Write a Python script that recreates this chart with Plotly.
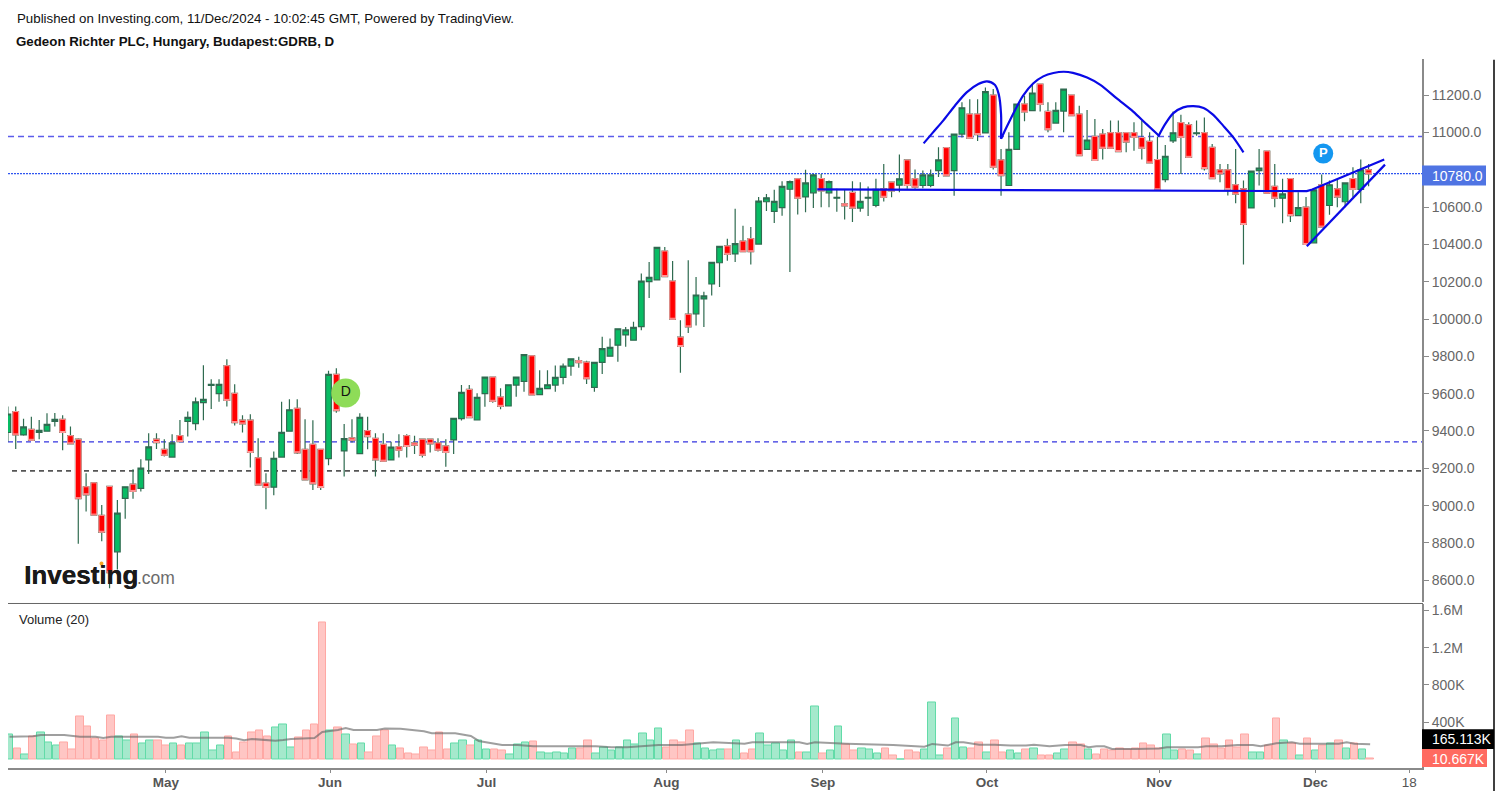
import plotly.graph_objects as go

W, H = 1502, 797

highs = [9531,9531,9465,9477,9459,9495,9497,9484,9424,9361,
 9174,9122,9003,9103,9030,9101,9195,9249,9388,9388,
 9356,9383,9459,9504,9580,9752,9677,9677,9784,9650,
 9484,9490,9361,9174,9290,9557,9570,9570,9463,9457,
 9302,9723,9736,9438,9463,9495,9477,9388,9388,9343,
 9383,9383,9375,9356,9356,9361,9356,9468,9646,9646,
 9602,9689,9689,9629,9648,9691,9810,9803,9725,9725,
 9751,9762,9789,9798,9777,9769,9905,9896,9949,9958,
 9985,10244,10306,10386,10386,10311,9994,10315,10226,10146,
 10306,10390,10431,10591,10500,10493,10654,10671,10693,10739,
 10743,10752,10800,10778,10778,10743,10698,10693,10739,10734,
 10711,10752,10832,10734,10882,10853,10802,10796,10802,10921,
 10919,10992,11162,11179,11179,11242,11233,10912,11001,11153,
 11197,11256,11260,11162,11162,11233,11201,11144,11121,11072,
 11019,11064,11064,10999,11055,11064,11001,10978,10933,11113,
 11096,11055,11064,11081,10939,10832,10832,10912,10743,10793,
 10912,10901,10832,10752,10753,10680,10654,10693,10775,10743,
 10746,10730,10814,10855,10832]
body_tops = [9491,9504,9422,9409,9404,9436,9463,9463,9375,9356,
 9101,9122,8948,9103,8960,9101,9115,9201,9315,9356,
 9302,9336,9375,9473,9556,9570,9650,9650,9750,9602,
 9458,9458,9256,9121,9254,9393,9514,9522,9302,9329,
 9302,9704,9704,9359,9363,9473,9402,9361,9329,9313,
 9315,9375,9336,9356,9356,9336,9320,9468,9607,9623,
 9580,9689,9689,9582,9648,9689,9809,9803,9629,9648,
 9687,9748,9787,9777,9769,9768,9842,9848,9948,9942,
 9955,10203,10224,10384,10365,10204,9903,10026,10129,10124,
 10304,10390,10392,10404,10418,10431,10632,10650,10631,10711,
 10737,10752,10730,10773,10753,10737,10652,10618,10679,10631,
 10653,10696,10698,10734,10752,10853,10752,10773,10773,10853,
 10919,10992,11133,11099,11099,11219,11201,10853,10910,11153,
 11153,11212,11260,11113,11119,11233,11201,11099,10960,10980,
 10992,10999,10999,10999,10999,10973,10953,10855,10873,10999,
 11053,11042,10999,10999,10921,10800,10800,10720,10698,10793,
 10810,10901,10712,10671,10753,10598,10600,10693,10720,10720,
 10698,10730,10753,10800,10800]
body_bottoms = [9392,9379,9379,9350,9393,9399,9452,9392,9331,9037,
 9058,8949,8857,8640,8752,9039,9076,9092,9245,9338,
 9270,9260,9343,9452,9440,9552,9645,9600,9564,9445,
 9438,9285,9110,9097,9099,9260,9399,9283,9138,9117,
 9097,9252,9509,9293,9350,9279,9370,9245,9238,9245,
 9297,9317,9324,9270,9331,9297,9285,9352,9466,9472,
 9459,9600,9559,9532,9534,9646,9666,9593,9595,9627,
 9646,9687,9748,9766,9680,9634,9768,9801,9860,9915,
 9887,9960,10201,10210,10228,9999,9853,9958,10028,10108,
 10188,10302,10347,10349,10361,10361,10402,10629,10577,10597,
 10696,10648,10655,10677,10687,10677,10648,10607,10595,10595,
 10648,10609,10653,10687,10718,10716,10707,10716,10716,10796,
 10768,10796,10992,10969,10989,10998,10814,10769,10716,10910,
 11110,11117,11151,11015,11051,11115,11090,10876,10910,10850,
 10916,10916,10898,10949,10974,10916,10837,10693,10748,10955,
 10974,10867,10994,10807,10753,10778,10695,10670,10507,10596,
 10796,10675,10648,10648,10555,10555,10400,10409,10493,10609,
 10654,10629,10695,10695,10778]
lows = [9343,9304,9375,9350,9356,9399,9424,9297,9331,8796,
 8969,8949,8809,8557,8657,8930,9037,9076,9170,9304,
 9263,9260,9343,9370,9404,9457,9518,9557,9531,9429,
 9392,9204,9110,8981,9056,9260,9399,9277,9138,9083,
 9083,9217,9498,9156,9338,9279,9302,9156,9238,9245,
 9258,9258,9276,9258,9285,9290,9208,9276,9456,9472,
 9459,9530,9552,9516,9534,9584,9611,9593,9595,9627,
 9611,9650,9696,9739,9652,9611,9705,9801,9771,9851,
 9887,9940,10113,10210,10228,9999,9712,9926,9966,9958,
 10126,10172,10313,10306,10361,10292,10402,10579,10515,10554,
 10252,10561,10573,10595,10600,10600,10575,10534,10520,10575,
 10552,10600,10630,10653,10680,10698,10698,10702,10707,10761,
 10768,10661,10974,10969,10955,10998,10802,10661,10716,10910,
 11060,11117,11113,11001,11051,11001,11090,10876,10910,10850,
 10855,10916,10898,10894,10903,10855,10837,10693,10734,10944,
 10778,10867,10983,10796,10753,10734,10662,10621,10293,10596,
 10716,10675,10600,10514,10520,10555,10400,10409,10493,10559,
 10600,10600,10654,10621,10712]
candle_dirs = ("GRGRGGGRRR" "RRRRGGRGGR" "RGRGGGGGRR" "RRRRGGGRRR" "RGRGRGRRRG"
               "RRRRRRRGGR" "GGRRGGGRGG" "GGGRRGGGGG" "GGGGRRRRGG" "GGRGRRGGGG"
               "GRGGRGGRRG" "GGRRGRRGGG" "RGGRRGRRGG" "RGRRGGRRGR" "RRRRRRRRGG"
               "RRGRRRRRRG" "GRRGRGRGRG" "RGRGR")

vol_k = [267,118,60,250,292,185,146,185,103,467,360,225,210,478,250,200,264,168,200,200,
 146,168,146,168,168,292,93,146,250,78,185,292,307,250,346,381,132,239,317,381,
 1469,307,346,264,160,168,78,250,307,146,118,64,50,135,93,292,103,168,210,146,
 200,103,103,93,50,157,185,189,78,64,78,64,118,118,200,64,132,93,132,200,
 157,278,200,332,132,200,185,307,171,118,93,103,103,210,64,103,278,146,171,93,
 210,78,78,574,64,93,360,157,93,118,103,64,118,39,5,93,78,103,613,39,
 118,438,132,118,185,78,210,78,93,64,103,118,39,39,64,103,185,157,103,50,
 103,93,118,103,118,171,146,118,264,93,103,93,50,225,157,118,200,132,264,78,
 78,146,438,200,171,39,225,93,146,171,200,118,171,103,10.667]

ma_idx = [0,3,4,7,9,11,12,13,17,19,20,21,22,23,26,28,29,30,31,33,34,35,36,39,40,42,43,44,47,48,50,
 53,54,57,59,60,61,63,65,67,75,77,79,81,83,86,88,90,94,95,101,102,103,105,107,113,115,117,118,120,
 121,122,124,126,128,130,131,133,135,137,138,139,140,141,144,147,148,150,152,153,155,157,159,160,
 162,164,165,170,171,172,174]
ma_k = [246,250,264,264,246,246,232,246,246,246,235,235,250,235,235,235,225,207,221,210,203,210,221,232,296,317,339,317,317,332,330,
 303,282,282,253,200,185,157,157,143,143,132,132,143,157,157,171,185,171,185,185,168,185,182,171,157,150,139,168,150,
 185,185,160,160,150,150,160,143,157,157,132,143,143,114,114,118,132,132,132,143,143,157,157,143,
 175,185,171,171,185,171,165]

level_upper = 10979
level_mid = 9342
level_support = 9186
last_price = 10780

arc1_x = [117.1,118.3,119.6,121.1,122.6,124.1,125.2,126.2,126.7,127,127]
arc1_y = [10942,11001,11064,11144,11215,11260,11274,11256,11206,11099,10966]
arc2_x = [127,127.7,128.8,129.8,131.1,132.4,133.7,135,136.2,138,139.7,141.8,143.9,145.6,147.2]
arc2_y = [10966,11028,11121,11197,11263,11301,11319,11326,11320,11295,11256,11183,11112,11045,10983]
arc3_x = [147.1,148,149,150.3,151.6,152.9,154.1,155.4,156.7,158]
arc3_y = [10978,11046,11103,11135,11142,11132,11096,11037,10974,10894]
neck_x = [103.5,166.1,166.8,176]
neck_y = [10695,10686,10695,10855]
wedge_x = [166.1,176.1]
wedge_y = [10390,10828]

price_ticks = [8600,8800,9000,9200,9400,9600,9800,10000,10200,10400,10600,11000,11200]
vol_ticks = [400,800,1200,1600]
vol_tick_text = ["400K","800K","1.2M","1.6M"]
month_ticks = [20,41,61,84,104,125,147,167,179]
month_text = ["<b>May</b>","<b>Jun</b>","<b>Jul</b>","<b>Aug</b>","<b>Sep</b>","<b>Oct</b>","<b>Nov</b>","<b>Dec</b>","18"]

FONT = "Liberation Sans"
AX = "#8a8a8a"
WICK = "#2f6b50"

n = len(highs)
idx = list(range(n))
opens = [b if d == "G" else t for t, b, d in zip(body_tops, body_bottoms, candle_dirs)]
closes = [t if d == "G" else b for t, b, d in zip(body_tops, body_bottoms, candle_dirs)]
red = [i for i in idx if candle_dirs[i] == "R"]

def fx(p): return p / W
def fy(p): return 1 - p / H

fig = go.Figure()
fig.add_trace(go.Candlestick(
    x=idx, open=opens, high=highs, low=lows, close=closes, whiskerwidth=0,
    increasing=dict(line=dict(color=WICK, width=1.2), fillcolor="#08BC64"),
    decreasing=dict(line=dict(color=WICK, width=1.2), fillcolor="#FF0000"),
    xaxis="x", yaxis="y", showlegend=False))
fig.add_trace(go.Candlestick(
    x=red, open=[body_tops[i] for i in red], high=[body_tops[i] for i in red],
    low=[body_bottoms[i] for i in red], close=[body_bottoms[i] for i in red], whiskerwidth=0,
    increasing=dict(line=dict(color="#FF9C9C", width=1), fillcolor="#FF0000"),
    decreasing=dict(line=dict(color="#FF9C9C", width=1), fillcolor="#FF0000"),
    xaxis="x", yaxis="y", showlegend=False))

for xs, ys, shape in [(arc1_x, arc1_y, "spline"), (arc2_x, arc2_y, "spline"), (arc3_x, arc3_y, "spline"),
                      (neck_x, neck_y, "linear"), (wedge_x, wedge_y, "linear")]:
    fig.add_trace(go.Scatter(x=xs, y=ys, mode="lines", xaxis="x", yaxis="y", showlegend=False,
                             line=dict(color="#0A0AE6", width=2.2, shape=shape, smoothing=0.8)))

fig.add_trace(go.Scatter(x=[43.2], y=[9604], mode="markers+text", text=["D"], textposition="middle center",
                         textfont=dict(family=FONT, size=14, color="#111111"), showlegend=False,
                         marker=dict(size=29, color="#8EDC58"), xaxis="x", yaxis="y"))
fig.add_trace(go.Scatter(x=[168.2], y=[10887], mode="markers+text", text=["<b>P</b>"], textposition="middle center",
                         textfont=dict(family=FONT, size=13, color="#FFFFFF"), showlegend=False,
                         marker=dict(size=20, color="#1497F0"), xaxis="x", yaxis="y"))

vol_colors = ["#A5E9CC" if d == "G" else "#FFC6C4" for d in candle_dirs]
vol_lines = ["#62DBA8" if d == "G" else "#FFA8A4" for d in candle_dirs]
fig.add_trace(go.Bar(x=idx, y=[v * 1000 for v in vol_k], marker=dict(color=vol_colors, line=dict(color=vol_lines, width=1)),
                     width=0.96, xaxis="x2", yaxis="y2", showlegend=False))
fig.add_trace(go.Scatter(x=ma_idx, y=[v * 1000 for v in ma_k], mode="lines", xaxis="x2", yaxis="y2", showlegend=False,
                         line=dict(color="rgba(100,100,100,0.62)", width=2)))

shapes = [
    dict(type="line", xref="paper", x0=fx(8), x1=fx(1422), yref="y", y0=level_upper, y1=level_upper,
         line=dict(color="#5C5CEB", width=1.5, dash="6px,4px"), layer="below"),
    dict(type="line", xref="paper", x0=fx(8), x1=fx(1422), yref="y", y0=level_mid, y1=level_mid,
         line=dict(color="#3535E0", width=1.2, dash="5px,4px"), layer="below"),
    dict(type="line", xref="paper", x0=fx(12), x1=fx(1422), yref="y", y0=level_support, y1=level_support,
         line=dict(color="#555555", width=1.6, dash="5px,4px"), layer="below"),
    dict(type="line", xref="paper", x0=fx(8), x1=fx(1422), yref="y", y0=last_price, y1=last_price,
         line=dict(color="#2F55F0", width=1.2, dash="2px,1px"), layer="below"),
    dict(type="line", xref="paper", yref="paper", x0=fx(8), x1=fx(1423), y0=fy(603), y1=fy(603),
         line=dict(color="#666666", width=1)),
    dict(type="line", xref="paper", yref="paper", x0=fx(1494), x1=fx(1494), y0=fy(58), y1=fy(791),
         line=dict(color="#000000", width=1.5)),
    dict(type="rect", xref="paper", yref="paper", x0=fx(1422), x1=fx(1486), y0=fy(164), y1=fy(184),
         fillcolor="#4F74E3", line=dict(width=0)),
    dict(type="rect", xref="paper", yref="paper", x0=fx(1422), x1=fx(1494), y0=fy(729), y1=fy(749),
         fillcolor="#000000", line=dict(width=0)),
    dict(type="rect", xref="paper", yref="paper", x0=fx(1422), x1=fx(1487), y0=fy(749), y1=fy(767),
         fillcolor="#FF6A60", line=dict(width=0)),
    dict(type="circle", xref="paper", yref="paper", x0=fx(99.5), x1=fx(103.5), y0=fy(565), y1=fy(561),
         fillcolor="#F5A623", line=dict(width=0)),
]

def label(text, x, y, size, color, anchor="left", shadow=None):
    font = dict(family=FONT, size=size, color=color)
    if shadow:
        font["shadow"] = shadow
    return dict(text=text, xref="paper", yref="paper", x=fx(x), y=fy(y), xanchor=anchor, yanchor="middle",
                showarrow=False, font=font, borderpad=0)

annotations = [
    label("Published on Investing.com, 11/Dec/2024 - 10:02:45 GMT, Powered by TradingView.", 16, 17, 13.3, "#111111"),
    label("<b>Gedeon Richter PLC, Hungary, Budapest:GDRB, D</b>", 15, 40, 13.3, "#111111"),
    label("Volume (20)", 18, 619, 13, "#222222"),
    label("10780.0", 1431, 174, 14, "#FFFFFF"),
    label("165.113K", 1431, 739, 14, "#FFFFFF"),
    label("10.667K", 1431, 759, 14, "#FFFFFF"),
    label('<b>Investing</b>', 23, 574, 26, "#1A1A1A", shadow="0.4px 0 0 #1A1A1A"),
    label(".com", 136, 577, 17.5, "#6B6B6B"),
]

fig.update_layout(
    width=W, height=H, margin=dict(l=0, r=0, t=0, b=0, pad=0), autosize=False,
    paper_bgcolor="#FFFFFF", plot_bgcolor="#FFFFFF", bargap=0, barmode="overlay", boxgap=0.15, boxgroupgap=0.15,
    showlegend=False, shapes=shapes, annotations=annotations, font=dict(family=FONT),
    xaxis=dict(domain=[fx(8), fx(1422)], range=[0.013, 180.83], anchor="y", showticklabels=False, ticks="",
               showgrid=False, zeroline=False, showline=False, rangeslider=dict(visible=False)),
    yaxis=dict(domain=[fy(602), fy(57)], range=[8480.6, 11395], side="right", anchor="x", tickmode="array",
               tickvals=price_ticks, tickformat=".1f", ticks="outside", ticklen=5, tickcolor=AX, tickwidth=1,
               showgrid=False, zeroline=False, showline=True, linecolor=AX, linewidth=2,
               tickfont=dict(family=FONT, size=14, color="#666666")),
    xaxis2=dict(domain=[fx(8), fx(1422)], range=[-0.19, 180.63], anchor="y2", tickmode="array",
                tickvals=month_ticks, ticktext=month_text, ticks="outside", ticklen=3, tickcolor=AX, tickangle=0,
                ticklabelstandoff=-2,
                showgrid=False, zeroline=False, showline=True, linecolor=AX, linewidth=2,
                tickfont=dict(family=FONT, size=13.5, color="#555555")),
    yaxis2=dict(domain=[fy(768), fy(604)], range=[-91000, 1663000], side="right", anchor="x2", tickmode="array",
                tickvals=[v * 1000 for v in vol_ticks], ticktext=vol_tick_text, ticks="outside", ticklen=5,
                tickcolor=AX, showgrid=False, zeroline=False, showline=True, linecolor=AX, linewidth=2,
                tickfont=dict(family=FONT, size=14, color="#666666")),
)

fig.write_html("out.html", config={"displayModeBar": False}, post_script="document.body.style.margin='0';document.body.style.overflow='hidden';")
